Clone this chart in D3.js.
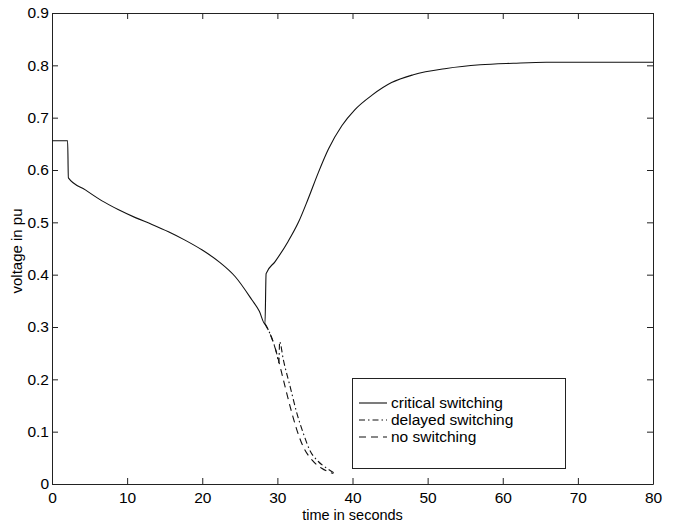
<!DOCTYPE html>
<html>
<head>
<meta charset="utf-8">
<script src="https://cdn.jsdelivr.net/npm/d3@7"></script>
<style>
  body { margin: 0; background: #fff; }
  svg { display: block; }
  text { font-family: "Liberation Sans", Arial, sans-serif; fill: #000; }
</style>
</head>
<body>
<svg id="chart" width="673" height="523" viewBox="0 0 673 523"></svg>
<script>
// critical switching
const critT = [0, 2.08, 2.18, 4.44, 6.66, 8.87, 11.1, 13.3, 15.5, 17.7, 20.0, 22.2, 24.4, 26.6, 27.6, 28.35,
  28.5, 29.7, 31.45, 32.8, 34.1, 35.45, 36.8, 38.6, 40.3, 42.6, 45.2, 48.1, 52.5, 57.0, 61.4, 65.8, 70.3, 80];
const critV = [0.656, 0.656, 0.585, 0.562, 0.541, 0.524, 0.509, 0.496, 0.482, 0.466, 0.447, 0.425, 0.396, 0.352, 0.330, 0.306,
  0.402, 0.425, 0.464, 0.500, 0.545, 0.595, 0.640, 0.685, 0.715, 0.743, 0.767, 0.782, 0.794, 0.801, 0.804, 0.806, 0.806, 0.806];

// delayed switching
const delayT = [28.35, 29.0, 29.9, 30.2, 30.3, 30.8, 31.7, 32.6, 33.45, 34.3, 35.45, 36.6, 37.7];
const delayV = [0.306, 0.288, 0.250, 0.232, 0.272, 0.237, 0.186, 0.135, 0.097, 0.065, 0.043, 0.030, 0.020];

// no switching
const noT = [28.35, 29.0, 29.9, 30.8, 31.7, 32.6, 33.45, 34.6, 35.9, 37.45];
const noV = [0.306, 0.288, 0.250, 0.199, 0.148, 0.103, 0.071, 0.046, 0.030, 0.020];

const xTicks = [0, 10, 20, 30, 40, 50, 60, 70, 80];
const yTicks = [0, 0.1, 0.2, 0.3, 0.4, 0.5, 0.6, 0.7, 0.8, 0.9];
const yTickLabels = ["0", "0.1", "0.2", "0.3", "0.4", "0.5", "0.6", "0.7", "0.8", "0.9"];

const legendNames = ["critical switching", "delayed switching", "no switching"];
const dashes = [null, "6,3,1.5,3", "7,5"];

const svg = d3.select("#chart");
const mLeft = 52, mRight = 653, mTop = 13, mBottom = 484;

const x = d3.scaleLinear().domain([0, 80]).range([mLeft, mRight]);
const y = d3.scaleLinear().domain([0, 0.9]).range([mBottom, mTop]);

// axes, MATLAB-style box with inward ticks on every side
const tickLen = 6;
svg.append("g").attr("transform", `translate(0,${mBottom})`)
  .call(d3.axisBottom(x).tickValues(xTicks).tickSizeInner(-tickLen).tickSizeOuter(0).tickPadding(8));
svg.append("g").attr("transform", `translate(0,${mTop})`)
  .call(d3.axisTop(x).tickValues(xTicks).tickSizeInner(-tickLen).tickSizeOuter(0).tickFormat(""));
svg.append("g").attr("transform", `translate(${mLeft},0)`)
  .call(d3.axisLeft(y).tickValues(yTicks).tickSizeInner(-tickLen).tickSizeOuter(0).tickPadding(3)
    .tickFormat((d, i) => yTickLabels[i]));
svg.append("g").attr("transform", `translate(${mRight},0)`)
  .call(d3.axisRight(y).tickValues(yTicks).tickSizeInner(-tickLen).tickSizeOuter(0).tickFormat(""));

svg.selectAll(".domain").attr("stroke", "#222");
svg.selectAll(".tick line").attr("stroke", "#222");
svg.selectAll(".tick text").style("font-size", "15.5px").style("font-family", "Liberation Sans, Arial, sans-serif");

// axis titles
svg.append("text").attr("x", (mLeft + mRight) / 2).attr("y", 520)
  .attr("text-anchor", "middle").style("font-size", "14.5px").text("time in seconds");
svg.append("text").attr("transform", `translate(22,251) rotate(-90)`)
  .attr("text-anchor", "middle").style("font-size", "15px").text("voltage in pu");

const line = d3.line().x(d => x(d[0])).y(d => y(d[1])).curve(d3.curveMonotoneX);
const series = [
  d3.zip(critT, critV),
  d3.zip(delayT, delayV),
  d3.zip(noT, noV)
];

series.forEach((s, i) => {
  svg.append("path")
    .datum(s)
    .attr("d", line)
    .attr("fill", "none")
    .attr("stroke", "#111")
    .attr("stroke-width", 1.1)
    .attr("stroke-dasharray", dashes[i]);
});

// legend
const lg = svg.append("g");
lg.append("rect").attr("x", 352.5).attr("y", 378.5).attr("width", 213).attr("height", 90)
  .attr("fill", "#fff").attr("stroke", "#222");
legendNames.forEach((name, i) => {
  const ly = 403 + i * 17;
  lg.append("line").attr("x1", 359).attr("x2", 387).attr("y1", ly).attr("y2", ly)
    .attr("stroke", "#111").attr("stroke-width", 1.1).attr("stroke-dasharray", dashes[i]);
  lg.append("text").attr("x", 391).attr("y", ly + 5).style("font-size", "15.5px").text(name);
});
</script>
</body>
</html>
